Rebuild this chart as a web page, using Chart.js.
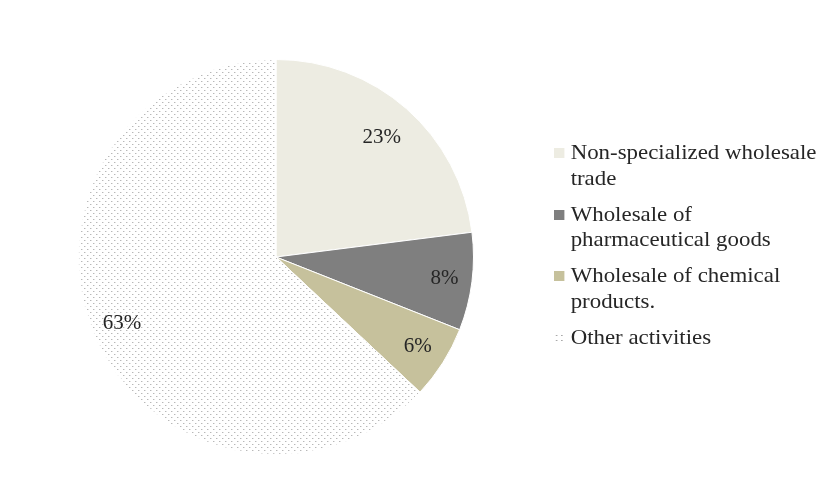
<!DOCTYPE html>
<html>
<head>
<meta charset="utf-8">
<script src="https://cdn.jsdelivr.net/npm/chart.js@4/dist/chart.umd.min.js"></script>
<style>
  html, body { margin: 0; padding: 0; background: #fff; }
  #wrap { position: relative; width: 824px; height: 500px; }
  #c { position: absolute; left: 0; top: 0; }
  #legend { position: absolute; left: 554px; top: 139px; font-family: "Liberation Serif", "Times New Roman", serif; font-size: 22px; color: #262626; line-height: 25.5px; transform: scaleX(1.04); transform-origin: 0 0; }
  .item { position: relative; padding-left: 16px; margin-bottom: 10.5px; white-space: nowrap; }
  .sw { position: absolute; left: 0px; top: 9px; width: 10px; height: 10px; }
</style>
</head>
<body>
<div id="wrap">
  <canvas id="c" width="824" height="500"></canvas>
  <div id="legend"></div>
</div>
<script>
const categories = ["Non-specialized wholesale trade", "Wholesale of pharmaceutical goods", "Wholesale of chemical products.", "Other activities"];
const legendLines = [["Non-specialized wholesale", "trade"], ["Wholesale of", "pharmaceutical goods"], ["Wholesale of chemical", "products."], ["Other activities"]];
const shares = [23, 8, 6, 63];
const valueLabels = ["23%", "8%", "6%", "63%"];

function dotPattern() {
  const t = document.createElement('canvas');
  t.width = 6; t.height = 6;
  const g = t.getContext('2d');
  g.fillStyle = '#ffffff'; g.fillRect(0, 0, 6, 6);
  g.fillStyle = '#b8b8b8';
  g.fillRect(0, 0, 1, 1);
  g.fillRect(3, 3, 1, 1);
  g.fillStyle = '#e2e2e2';
  g.fillRect(1, 0, 1, 1);
  g.fillRect(4, 3, 1, 1);
  return g.createPattern(t, 'repeat');
}
const ctx = document.getElementById('c').getContext('2d');
const pat = dotPattern();
const colors = ['#EDECE2', '#7F7F7F', '#C6C19C', pat];

const labelPlugin = {
  id: 'pctLabels',
  afterDatasetsDraw(chart) {
    const c = chart.ctx;
    const meta = chart.getDatasetMeta(0);
    const ratios = [0.81, 0.86, 0.85, 0.85];
    c.save();
    c.font = '21px "Liberation Serif", "Times New Roman", serif';
    c.fillStyle = '#262626';
    c.textAlign = 'center';
    c.textBaseline = 'middle';
    meta.data.forEach((arc, i) => {
      const p = arc.getProps(['x', 'y', 'startAngle', 'endAngle', 'outerRadius'], true);
      const mid = (p.startAngle + p.endAngle) / 2;
      const r = p.outerRadius * ratios[i];
      c.fillText(valueLabels[i], p.x + Math.cos(mid) * r, p.y + Math.sin(mid) * r);
    });
    c.restore();
  }
};

new Chart(ctx, {
  type: 'pie',
  data: {
    labels: categories,
    datasets: [{
      data: shares,
      backgroundColor: colors,
      borderColor: '#ffffff',
      borderWidth: 1
    }]
  },
  options: {
    responsive: false,
    animation: false,
    layout: { padding: { left: 78, top: 59, right: 350, bottom: 45 } },
    plugins: { legend: { display: false }, tooltip: { enabled: false } }
  },
  plugins: [labelPlugin]
});

// HTML legend
const lg = document.getElementById('legend');
legendLines.forEach((lines, i) => {
  const it = document.createElement('div');
  it.className = 'item';
  const sw = document.createElement('span');
  sw.className = 'sw';
  if (i === 3) {
    sw.style.backgroundImage = 'radial-gradient(#aaa 0.7px, transparent 1px)';
    sw.style.backgroundSize = '5px 5px';
  } else {
    sw.style.background = colors[i];
  }
  it.appendChild(sw);
  lines.forEach((ln) => {
    const d = document.createElement('div');
    d.textContent = ln;
    it.appendChild(d);
  });
  lg.appendChild(it);
});
</script>
</body>
</html>
